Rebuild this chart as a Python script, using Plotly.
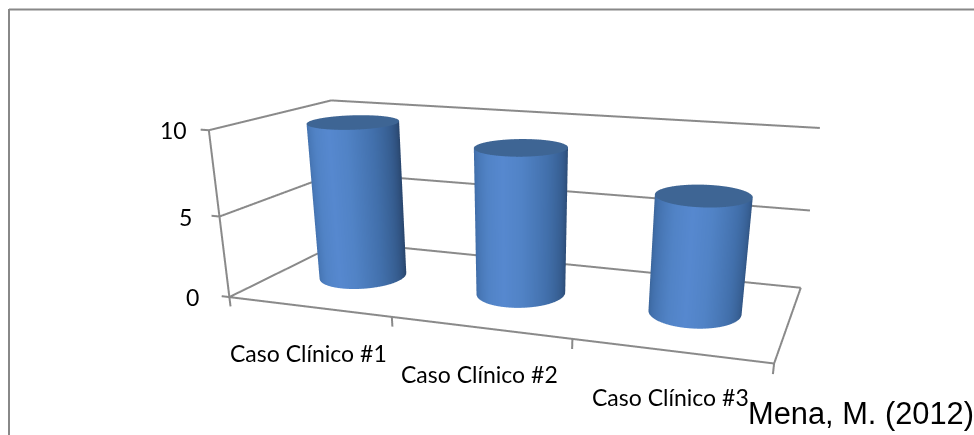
import numpy as np
import plotly.graph_objects as go

categories = ["Caso Clínico #1", "Caso Clínico #2", "Caso Clínico #3"]
values = [9.8, 8.95, 6.95]
value_ticks = [0, 5, 10]
value_label_offsets = [-28, -25, -20]
source_note = "Mena, M. (2012)"

PAGE_W, PAGE_H = 1082, 847      # drawing surface; a longer lens needs a taller scene

# Box proportions and viewpoint of the 3-D plot
BOX = dict(x=1.6, y=0.6877, z=0.4829)
EYE = dict(x=0.9992, y=-2.8231, z=0.6947)
CENTER = dict(x=0.1232, y=-0.1702, z=-0.5881)
UP = dict(x=-0.1402, y=0.3931, z=0.9087)

# Axis ranges are padded evenly so that tick marks stay inside the scene
X_RANGE, Y_RANGE, Z_RANGE = [-0.3, 3.3], [-0.05, 1.05], [-1, 11]
RADIUS_X = 0.083 * 3
RADIUS_Y = 1.12 * 0.083 * BOX["x"] / BOX["y"]
DEPTH_CENTRE = 0.495
LABEL_FONT = dict(family="Lato", size=23, color="#000000")


def axis_frame():
    """Gridlines on the two walls, floor edges and tick marks, split by gaps."""
    xs, ys, zs = [], [], []

    def seg(a, b):
        xs.extend([a[0], b[0], None])
        ys.extend([a[1], b[1], None])
        zs.extend([a[2], b[2], None])

    for v in value_ticks:
        seg((0, 0, v), (0, 1, v))
        seg((0, 1, v), (3, 1, v))
        seg((0, 0, v), (-0.05, 0, v))
    seg((0, 0, value_ticks[0]), (0, 0, value_ticks[-1]))
    seg((0, 0, 0), (3, 0, 0))
    seg((3, 0, 0), (3, 1, 0))
    for k in range(len(categories) + 1):
        seg((k, 0, 0), (k, 0, -0.6))
    return xs, ys, zs


fig = go.Figure()
lx, ly, lz = axis_frame()
fig.add_trace(go.Scatter3d(x=lx, y=ly, z=lz, mode="lines",
                           line=dict(color="#8a8a8a", width=4),
                           hoverinfo="skip", showlegend=False))

# Shading runs from the front of each cylinder towards its back
side_scale = [[0, "#5688cf"], [0.12, "#5183c6"], [0.3, "#4270ac"],
              [0.45, "#365d90"], [0.6, "#2a476f"], [1, "#2a476f"]]
cap_scale = [[0, "#3e6594"], [1, "#3e6594"]]
flat_light = dict(ambient=1, diffuse=0, specular=0, fresnel=0, roughness=1)
theta = np.linspace(0, 2 * np.pi, 121)

for i, v in enumerate(values):
    cx = i + 0.5
    X = np.outer(cx + RADIUS_X * np.cos(theta), [1, 1])
    Y = np.outer(DEPTH_CENTRE + RADIUS_Y * np.sin(theta), [1, 1])
    Z = np.outer(np.ones_like(theta), [0, v])
    shade = np.abs((theta + 1.5 * np.pi) % (2 * np.pi) - np.pi) / np.pi
    fig.add_trace(go.Surface(x=X, y=Y, z=Z, surfacecolor=np.outer(shade, [1, 1]),
                             colorscale=side_scale, cmin=0, cmax=1, showscale=False,
                             lighting=flat_light, hoverinfo="skip"))
    rings = np.array([0, 1.0])
    Xc = cx + RADIUS_X * np.outer(np.cos(theta), rings)
    Yc = DEPTH_CENTRE + RADIUS_Y * np.outer(np.sin(theta), rings)
    fig.add_trace(go.Surface(x=Xc, y=Yc, z=np.full_like(Xc, v), surfacecolor=np.zeros_like(Xc),
                             colorscale=cap_scale, cmin=0, cmax=1, showscale=False,
                             lighting=flat_light, hoverinfo="skip"))

scene_labels = [dict(x=0, y=0, z=v, text=str(v), showarrow=False, xanchor="right",
                     xshift=off, font=LABEL_FONT)
                for v, off in zip(value_ticks, value_label_offsets)]
scene_labels += [dict(x=i + 0.5, y=0, z=0, text=c, showarrow=False, yshift=-46, font=LABEL_FONT)
                 for i, c in enumerate(categories)]

fig.update_layout(
    width=PAGE_W, height=PAGE_H, margin=dict(l=0, r=0, t=0, b=0),
    paper_bgcolor="white", showlegend=False,
    scene=dict(
        domain=dict(x=[0, 1], y=[0, 1]),
        xaxis=dict(visible=False, range=X_RANGE),
        yaxis=dict(visible=False, range=Y_RANGE),
        zaxis=dict(visible=False, range=Z_RANGE),
        aspectmode="manual",
        aspectratio=dict(x=BOX["x"] * 1.2, y=BOX["y"] * 1.1, z=BOX["z"] * 1.2),
        camera=dict(eye=EYE, center=CENTER, up=UP, projection=dict(type="perspective")),
        annotations=scene_labels,
    ),
    annotations=[dict(x=746 / PAGE_W, y=1 - 433 / PAGE_H, xref="paper", yref="paper",
                      xanchor="left", yanchor="bottom", text=source_note, showarrow=False,
                      font=dict(family="Liberation Sans", size=30.8, color="#000000"))],
    shapes=[
        dict(type="line", xref="paper", yref="paper", x0=9 / PAGE_W, x1=1,
             y0=1 - 9.5 / PAGE_H, y1=1 - 9.5 / PAGE_H, line=dict(color="#888888", width=2)),
        dict(type="line", xref="paper", yref="paper", x0=9 / PAGE_W, x1=9 / PAGE_W,
             y0=0, y1=1 - 9 / PAGE_H, line=dict(color="#888888", width=2)),
    ],
)
fig.write_html("out.html")
